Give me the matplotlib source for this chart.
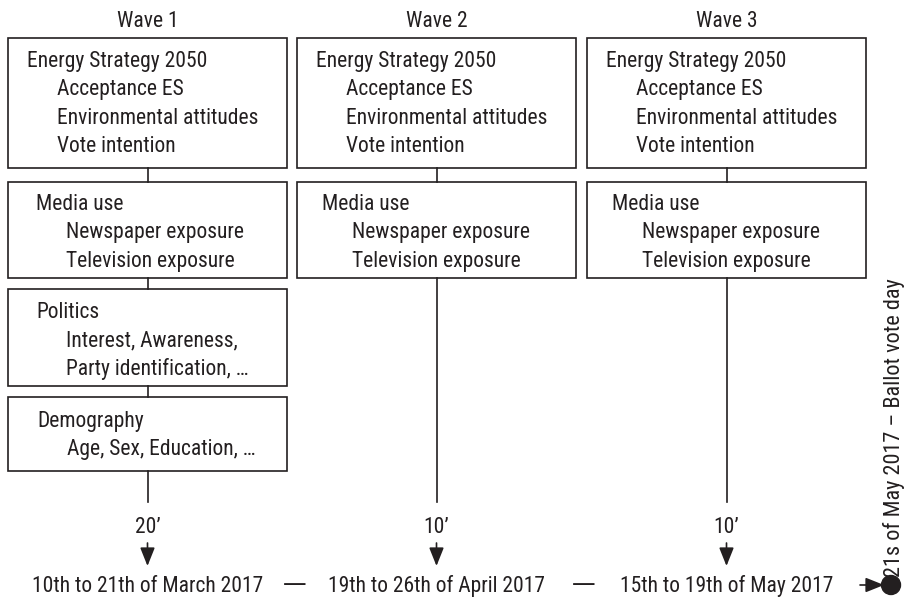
import matplotlib
matplotlib.use('Agg')
import matplotlib.pyplot as plt
from matplotlib.patches import Rectangle, Circle

# text content
waves = ['Wave 1', 'Wave 2', 'Wave 3']
durations = ['20\u2019', '10\u2019', '10\u2019']
dates = ['10th to 21th of March 2017', '19th to 26th of April 2017', '15th to 19th of May 2017']
vote_day = '21s of May 2017 \u2013 Ballot vote day'

energy_title = 'Energy Strategy 2050'
energy_items = ['Acceptance ES', 'Environmental attitudes', 'Vote intention']
media_title = 'Media use'
media_items = ['Newspaper exposure', 'Television exposure']
politics_title = 'Politics'
politics_items = ['Interest, Awareness,', 'Party identification, \u2026']
demo_title = 'Demography'
demo_items = ['Age, Sex, Education, \u2026']

# which blocks each wave measured
wave_blocks = [
    [(energy_title, energy_items), (media_title, media_items),
     (politics_title, politics_items), (demo_title, demo_items)],
    [(energy_title, energy_items), (media_title, media_items)],
    [(energy_title, energy_items), (media_title, media_items)],
]

plt.rcParams['font.family'] = ['Roboto Condensed', 'DejaVu Sans']

ink = '#231f20'
fs = 15.5

fig = plt.figure(figsize=(9.08, 6.0), dpi=100)
ax = fig.add_axes([0, 0, 1, 1])
ax.set_xlim(0, 908)
ax.set_ylim(600, 0)
ax.axis('off')

col_left = [8, 297, 587]
col_w = 279
# (top, bottom, first baseline, line step, title indent)
box_rows = [(38, 168, 67, 28.4, 19), (182, 278, 210, 28.3, 28),
            (289, 386, 318, 28.5, 28), (397, 471, 427, 27.5, 29)]

for i, blocks in enumerate(wave_blocks):
    x0 = col_left[i]
    xc = x0 + col_w / 2
    ax.text(xc, 27, waves[i], ha='center', va='baseline', fontsize=fs, color=ink)
    prev_bottom = None
    for j, (title, items) in enumerate(blocks):
        top, bot, base, step, ind = box_rows[j]
        if i > 0 and j == 1:
            ind = 25
        ax.add_patch(Rectangle((x0, top), col_w, bot - top, fill=False,
                               edgecolor=ink, lw=1.2))
        if prev_bottom is not None:
            ax.plot([xc, xc], [prev_bottom, top], color=ink, lw=1.2)
        ax.text(x0 + ind, base, title, ha='left', va='baseline', fontsize=fs, color=ink)
        for k, it in enumerate(items):
            ax.text(x0 + ind + 30, base + step * (k + 1), it, ha='left',
                    va='baseline', fontsize=fs, color=ink)
        prev_bottom = bot
    ax.plot([xc, xc], [prev_bottom, 502], color=ink, lw=1.2)
    ax.text(xc, 533, durations[i], ha='center', va='baseline', fontsize=fs, color=ink)
    ax.annotate('', xy=(xc, 566), xytext=(xc, 543),
                arrowprops=dict(arrowstyle='-|>,head_length=0.8,head_width=0.32',
                                color=ink, lw=1.2, mutation_scale=14,
                                shrinkA=0, shrinkB=0))
    ax.text(xc, 592, dates[i], ha='center', va='baseline', fontsize=fs, color=ink)

# dashes between the dates
for xd in [295, 584]:
    ax.text(xd, 591, '\u2014', ha='center', va='baseline', fontsize=17,
            color=ink, family='DejaVu Sans')

# ballot day marker
ax.annotate('', xy=(884, 585), xytext=(860, 585),
            arrowprops=dict(arrowstyle='-|>,head_length=0.8,head_width=0.32',
                            color=ink, lw=1.2, mutation_scale=14,
                            shrinkA=0, shrinkB=0))
ax.add_patch(Circle((891, 585), 9.5, color=ink))
ax.text(894, 577, vote_day, rotation=90, ha='center', va='bottom',
        fontsize=16, color=ink)

fig.savefig('out.png', dpi=100)
